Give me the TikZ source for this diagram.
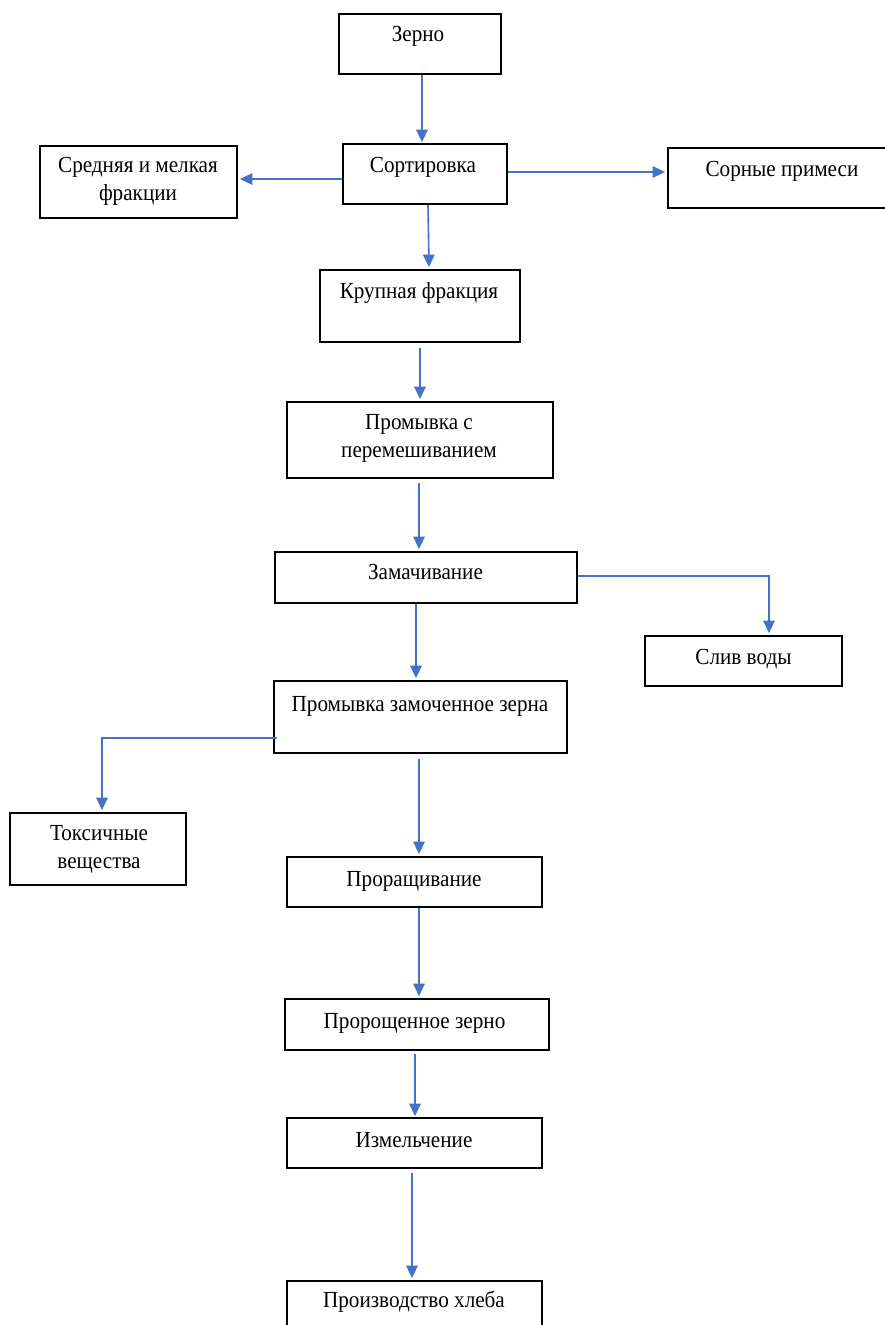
\documentclass[tikz,border=0pt]{standalone}
\usepackage{fontspec}
\setmainfont[FakeStretch=0.92]{Liberation Serif}
\usetikzlibrary{arrows.meta,calc}
\definecolor{flow}{HTML}{4472C4}
\begin{document}
\begin{tikzpicture}[x=1pt,y=-1pt,
  box/.style={draw=black,line width=1.8pt,rectangle,inner sep=0pt},
  txt/.style={font=\fontsize{23}{27.5}\selectfont,inner sep=0pt,anchor=base,align=center},
  arr/.style={draw=flow,line width=1.6pt,-{Triangle[length=12.5pt,width=11.5pt]}}]
\useasboundingbox (0,0) rectangle (885,1325);
\fill[white] (0,0) rectangle (885,1325);
% boxes
\node[box,minimum width=162pt,minimum height=60pt] (zerno) at (420,44) {};
\node[box,minimum width=164pt,minimum height=60pt] (sort) at (425,174) {};
\node[box,minimum width=197pt,minimum height=72pt] (sred) at (138.5,182) {};
\node[box,minimum width=228pt,minimum height=60pt] (sor) at (782,178) {};
\node[box,minimum width=200pt,minimum height=72pt] (krup) at (420,306) {};
\node[box,minimum width=266pt,minimum height=76pt] (prom1) at (420,440) {};
\node[box,minimum width=302pt,minimum height=51pt] (zamach) at (426,577.5) {};
\node[box,minimum width=197pt,minimum height=50pt] (sliv) at (743.5,661) {};
\node[box,minimum width=293pt,minimum height=72pt] (prom2) at (420.5,717) {};
\node[box,minimum width=176pt,minimum height=72pt] (tox) at (98,849) {};
\node[box,minimum width=255pt,minimum height=50pt] (prorash) at (414.5,882) {};
\node[box,minimum width=264pt,minimum height=51pt] (proros) at (417,1024.5) {};
\node[box,minimum width=255pt,minimum height=50pt] (izmel) at (414.5,1143) {};
\node[box,minimum width=255pt,minimum height=59pt] (proizv) at (414.5,1310.5) {};
% texts
\node[txt] (t1) at (418,41) {Зерно};
\node[txt] (t2) at (423,172) {Сортировка};
\node[txt] (t3) at (138,200) {Средняя и мелкая\\фракции};
\node[txt] (t4) at (782,176) {Сорные примеси};
\node[txt] (t5) at (419,298) {Крупная фракция};
\node[txt] (t6) at (419,457) {Промывка с\\перемешиванием};
\node[txt] (t7) at (425.5,579) {Замачивание};
\node[txt] (t8) at (743.5,664) {Слив воды};
\node[txt] (t9) at (420,711) {Промывка замоченное зерна};
\node[txt] (t10) at (99,868) {Токсичные\\вещества};
\node[txt] (t11) at (414,886) {Проращивание};
\node[txt] (t12) at (414.5,1028) {Пророщенное зерно};
\node[txt] (t13) at (414,1147) {Измельчение};
\node[txt] (t14) at (414,1307) {Производство хлеба};
% arrows
\draw[arr] ($(zerno.south)+(2,0)$) -- ($(sort.north)+(-3,-1)$);
\draw[arr] ($(sort.west)+(0,5)$) -- ($(sred.east)+(2,-3)$);
\draw[arr] ($(sort.east)+(0,-2)$) -- ($(sor.west)+(-2,-6)$);
\draw[arr] ($(sort.south)+(3,0)$) -- ($(krup.north)+(9,-2)$);
\draw[arr] ($(krup.south)+(0,5)$) -- ($(prom1.north)+(0,-2)$);
\draw[arr] ($(prom1.south)+(-1,4)$) -- ($(zamach.north)+(-7,-2)$);
\draw[arr] ($(zamach.east)+(0,-1.5)$) -| ($(sliv.north)+(25.5,-2)$);
\draw[arr] ($(zamach.south)+(-10,0)$) -- ($(prom2.north)+(-4.5,-2)$);
\draw[arr] ($(prom2.west)+(4,21)$) -| ($(tox.north)+(4,-2)$);
\draw[arr] ($(prom2.south)+(-1.5,5)$) -- ($(prorash.north)+(4.5,-2)$);
\draw[arr] ($(prorash.south)+(4.5,0)$) -- ($(proros.north)+(2,-2)$);
\draw[arr] ($(proros.south)+(-2,3)$) -- ($(izmel.north)+(0.5,-1)$);
\draw[arr] ($(izmel.south)+(-2.5,4)$) -- ($(proizv.north)+(-2.5,-2)$);
\end{tikzpicture}
\end{document}
